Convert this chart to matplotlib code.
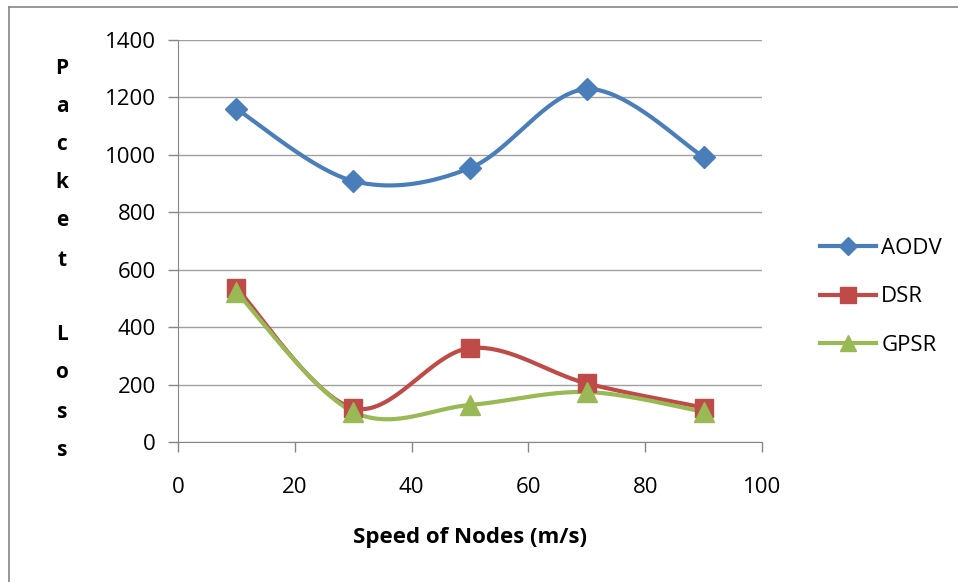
import numpy as np
import matplotlib
matplotlib.use("Agg")
import matplotlib.pyplot as plt
from matplotlib.lines import Line2D

speed = [10, 30, 50, 70, 90]
aodv = [1160, 909, 954, 1229, 993]
dsr = [537, 118, 327, 204, 120]
gpsr = [522, 105, 129, 174, 105]
series_names = ["AODV", "DSR", "GPSR"]
xticks = [0, 20, 40, 60, 80, 100]
yticks = [0, 200, 400, 600, 800, 1000, 1200, 1400]

plt.rcParams['font.family'] = ['Open Sans', 'DejaVu Sans']

def smooth(x, y, n=40):
    # Excel-style smoothing (Catmull-Rom Bezier, 1/6 factor)
    x = np.asarray(x, float); y = np.asarray(y, float)
    px = np.concatenate([[x[0]], x, [x[-1]]])
    py = np.concatenate([[y[0]], y, [y[-1]]])
    xs, ys = [], []
    t = np.linspace(0, 1, n)
    for i in range(1, len(px) - 2):
        p0 = np.array([px[i], py[i]]); p3 = np.array([px[i+1], py[i+1]])
        c1 = p0 + (np.array([px[i+1], py[i+1]]) - np.array([px[i-1], py[i-1]])) / 6
        c2 = p3 - (np.array([px[i+2], py[i+2]]) - np.array([px[i], py[i]])) / 6
        b = ((1-t)**3)[:, None]*p0 + (3*(1-t)**2*t)[:, None]*c1 + (3*(1-t)*t**2)[:, None]*c2 + (t**3)[:, None]*p3
        xs.append(b[:, 0]); ys.append(b[:, 1])
    return np.concatenate(xs), np.concatenate(ys)

fig = plt.figure(figsize=(9.58, 5.82), dpi=100)
ax = fig.add_axes([178/958, 1-442/582, (762-178)/958, (442-40)/582])

colors = ["#4A7EBB", "#BE4B48", "#98B954"]
markers = ["D", "s", "^"]
msizes = [11, 13, 14]
for vals, name, c, m, ms in zip([aodv, dsr, gpsr], series_names, colors, markers, msizes):
    sx, sy = smooth(speed, vals)
    ax.plot(sx, sy, color=c, lw=3, solid_capstyle='round', zorder=3)
    ax.plot(speed, vals, linestyle='none', marker=m, markersize=ms, color=c, zorder=4)
    ax.plot([], [], color=c, lw=3, marker=m, markersize=ms*0.85, label=name)

ax.set_xlim(0, 100)
ax.set_ylim(0, 1400)
ax.set_xticks(xticks)
ax.set_yticks(yticks)
ax.tick_params(axis='both', labelsize=16, color='#868686', length=7, width=1, direction='out')
ax.tick_params(axis='x', pad=18)
ax.tick_params(axis='y', pad=9)
ax.yaxis.grid(True, color='#A0A0A0', lw=1)
ax.set_axisbelow(True)
for s in ['top', 'right']:
    ax.spines[s].set_visible(False)
for s in ['left', 'bottom']:
    ax.spines[s].set_color('#868686')

ax.set_xlabel("Speed of Nodes (m/s)", fontsize=16, fontweight='bold')
ax.xaxis.set_label_coords(0.5, (442-538)/402)
ax.xaxis.label.set_va('center')

leg = fig.legend(*ax.get_legend_handles_labels(), loc='center left',
                 bbox_to_anchor=(809/958, 1-297/582), frameon=False, fontsize=16,
                 handlelength=2.5, labelspacing=1.25, handletextpad=0.25, borderpad=0)

ylabel = "Packet Loss"
ypos = [68, 107, 144, 183, 221, 260, 298, 335, 372, 412, 450]
for ch, yp in zip(ylabel, ypos):
    fig.text(62/958, 1-yp/582, ch, fontsize=15, fontweight='bold', ha='center', va='center')

fig.add_artist(Line2D([9/958, 9/958], [0, 1-7/582], transform=fig.transFigure, color='#868686', lw=1.2))
fig.add_artist(Line2D([9/958, 1], [1-7/582, 1-7/582], transform=fig.transFigure, color='#868686', lw=1.2))

fig.savefig("out.png", dpi=100)
